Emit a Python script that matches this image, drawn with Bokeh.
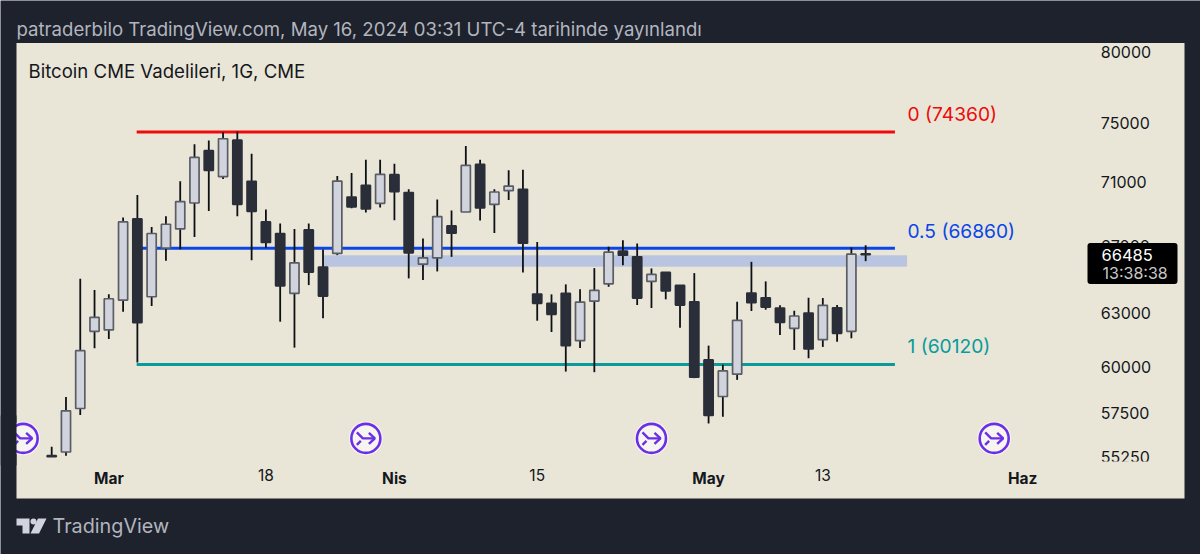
import math
from bokeh.plotting import figure
from bokeh.models import (ColumnDataSource, LinearAxis, LogAxis, FixedTicker, Label, BoxAnnotation,
                          PolyAnnotation, Range1d, PrintfTickFormatter)
from bokeh.embed import file_html
from bokeh.resources import INLINE

# --- data ---
highs = [55765,58351,65015,64349,64097,68759,70191,68172,68840,71072,73532,73780,74340,74387,72891,69262,68383,68047,68383,66782,
         71417,71612,72493,72493,72229,70556,67455,69896,69199,73398,72493,70556,71789,71835,67245,64097,64684,64390,65652,66941,
         67350,67148,65634,65413,64642,65354,61162,60111,63665,66030,64861,63457,63145,63899,63881,63475,66904,67044]
tops  = [55310,57626,60883,62767,63840,68483,68671,67763,68340,69769,72645,73090,73894,73800,71072,68483,67763,65970,67986,65712,
         71091,70063,70814,71528,71508,70344,66273,68821,68234,72117,72183,70382,70769,70556,64114,63573,64155,63648,64331,66617,
         66678,66333,65276,65395,64625,63665,60369,59767,62595,64172,63899,63301,62841,63013,63458,63318,66496,66510]
bots  = [55258,55496,57747,61970,62044,63765,62458,63957,66861,68047,69680,71789,71378,69597,69154,67209,64601,64155,65413,63998,
         66538,69426,69300,69661,70408,66575,65892,66273,67781,69110,69363,69591,70472,67166,63573,62938,61162,61441,63706,64719,
         66436,63881,64861,64307,63475,59425,57380,58383,59587,63607,63359,62481,62140,60978,61497,61856,61970,66470]
lows  = [55250,55309,57401,61017,61537,63087,60220,63417,66090,66800,67552,69173,71222,68840,66133,66880,62515,61050,64642,62710,
         66436,69344,69072,69388,68589,65039,64938,65455,66333,69110,68570,67800,69871,65395,62572,61930,59728,61034,59696,64543,
         65832,63475,63301,63805,62174,59371,56962,57312,59278,63128,63203,61761,60922,60463,61090,61385,61574,66072]
rising = [0,1,1,1,1,1,0,1,1,1,1,0,1,0,0,0,0,1,0,0,
          1,0,0,1,0,0,1,1,0,1,0,1,1,0,0,0,0,1,1,1,
          0,0,1,0,0,0,0,1,1,0,0,0,1,0,1,0,1,0]

fib_names  = ["0", "0.5", "1"]
fib_values = [74360, 66860, 60120]
fib_colors = ["#f00a0a", "#0a46e6", "#0a9a9c"]
band_top, band_bottom = 66436, 65730
y_ticks = [55250, 57500, 60000, 63000, 67000, 71000, 75000, 80000]
bold_ticks, bold_labels = [4, 24, 46, 68], ["Mar", "Nis", "May", "Haz"]
reg_ticks, reg_labels = [15, 34, 54], ["18", "15", "13"]
event_slots = [-2, 22, 42, 66]
event_price = 56190
last_price, countdown = "66485", "13:38:38"

W, H = 1200, 554
DARK, CREAM = "#1e222d", "#e9e6d8"
UP, DOWN, EDGE, WICK = "#d1d4dc", "#2a2e39", "#5a5c66", "#0e1014"
FONT = "Inter"

x0_px, step = 51.2, 14.28
ky = 1094.0
x_range = Range1d(-x0_px / step, (W - x0_px) / step)
y_range = Range1d(75000 * math.exp((122 - H) / ky), 75000 * math.exp(122 / ky))

p = figure(width=W, height=H, x_range=x_range, y_range=y_range, y_axis_type="log", x_axis_type=None,
           y_axis_location=None, toolbar_location=None, output_backend="svg", min_border=0,
           background_fill_color=DARK, border_fill_color=DARK, outline_line_color=None)
p.margin = (0, 0, 0, 0)
p.grid.visible = False


def box(l, r, t, b, color, level="annotation", **kw):
    p.add_layout(BoxAnnotation(left=l, right=r, top=H - t, bottom=H - b, left_units="screen", right_units="screen",
                               top_units="screen", bottom_units="screen", fill_color=color, fill_alpha=1,
                               line_color=None, level=level, **kw))


def label(x, y, text, color, size, weight="normal", align="left"):
    p.add_layout(Label(x=x, y=H - y, x_units="screen", y_units="screen", text=text, text_color=color,
                       text_font=FONT, text_font_size=f"{size}px", text_font_style=weight,
                       text_baseline="middle", text_align=align, level="overlay"))


# panel
box(16, 1184, 42.5, 498, CREAM, level="underlay")

# band + fib lines
p.quad(left=[19], right=[59.9], top=[band_top], bottom=[band_bottom], fill_color="#b8c4e0", line_color=None)
for v, c in zip(fib_values, fib_colors):
    p.line([5.95, 59.05], [v, v], line_color=c, line_width=3)

# candles
src_all = ColumnDataSource(dict(x=list(range(len(highs))), hi=highs, lo=lows))
p.segment("x", "hi", "x", "lo", source=src_all, line_color=WICK, line_width=1.8)
up_i = [i for i, r in enumerate(rising) if r]
dn_i = [i for i, r in enumerate(rising) if not r]
p.vbar(x=up_i, top=[tops[i] for i in up_i], bottom=[bots[i] for i in up_i], width=0.64,
       fill_color=UP, line_color=EDGE, line_width=1.7)
p.vbar(x=dn_i, top=[tops[i] for i in dn_i], bottom=[bots[i] for i in dn_i], width=0.64,
       fill_color=DOWN, line_color=DOWN, line_width=1.7)

# event markers
p.scatter(event_slots, [event_price] * 4, size=34, fill_color="#f6f5f0", line_color=None)
p.scatter(event_slots, [event_price] * 4, size=29, fill_color="#f6f5f0", line_color="#6a2fe6", line_width=2.6)
arrow_parts = [[(-9, -6), (-3, 0), (9, 0)], [(3, -5.5), (9, 0), (3, 5.5)], [(-9, 6.5), (-5, 2.5)]]
xs, ys = [], []
for s in event_slots:
    for part in arrow_parts:
        xs.append([s + dx / step for dx, dy in part])
        ys.append([event_price * math.exp(-dy / ky) for dx, dy in part])
p.multi_line(xs, ys, line_color="#6a2fe6", line_width=2.4)
box(0, 16, 415, 465, DARK)

# axes
yax = LogAxis(ticker=FixedTicker(ticks=y_ticks), formatter=PrintfTickFormatter(format="%d"),
              fixed_location=73.05, major_label_text_font=FONT, major_label_text_font_size="16px",
              major_label_text_color="#15171c", axis_line_color=None, major_tick_line_color=None,
              minor_tick_line_color=None, major_label_standoff=0)
p.add_layout(yax, "right")
for ticks, names, style in ((bold_ticks, bold_labels, "bold"), (reg_ticks, reg_labels, "normal")):
    ax = LinearAxis(ticker=FixedTicker(ticks=ticks), major_label_overrides=dict(zip(ticks, names)),
                    fixed_location=54950, major_label_text_font=FONT, major_label_text_font_size="15.5px",
                    major_label_text_font_style=style, major_label_text_color="#15171c", axis_line_color=None,
                    major_tick_line_color=None, minor_tick_line_color=None, major_label_standoff=0)
    p.add_layout(ax, "below")

# pane bottom clips the lowest price label
box(1090, 1175, 461, 470, CREAM)

# fib labels
for name, v, c, y in zip(fib_names, fib_values, fib_colors, (113, 230, 345)):
    label(907, y, f"{name} ({v})", c, 19.2)

# price box
box(1087, 1177, 242.5, 283.5, "#000000", border_radius=3)
label(1101, 254, last_price, "#ffffff", 16.5)
label(1102, 272, countdown, "#c8c8c8", 16)

# texts
label(16, 28.5, "patraderbilo TradingView.com, May 16, 2024 03:31 UTC-4 tarihinde yayınlandı", "#b2b5be", 18.6)
label(28, 70, "Bitcoin CME Vadelileri, 1G, CME", "#15171c", 18.6)
label(52, 525, "TradingView", "#b2b5be", 19.8)

# logo
for pts in ([(16, 518), (29, 518), (29, 533), (22, 533), (22, 525), (16, 525)],
            [(37.5, 518), (46, 518), (38.5, 533), (30, 533)]):
    p.add_layout(PolyAnnotation(xs=[a for a, b in pts], ys=[H - b for a, b in pts], xs_units="screen", ys_units="screen",
                                fill_color="#d1d4dc", fill_alpha=1, line_color=None))
box(30, 36, 518, 524, "#d1d4dc", border_radius=3)

open("out.html", "w").write(file_html(p, INLINE))
